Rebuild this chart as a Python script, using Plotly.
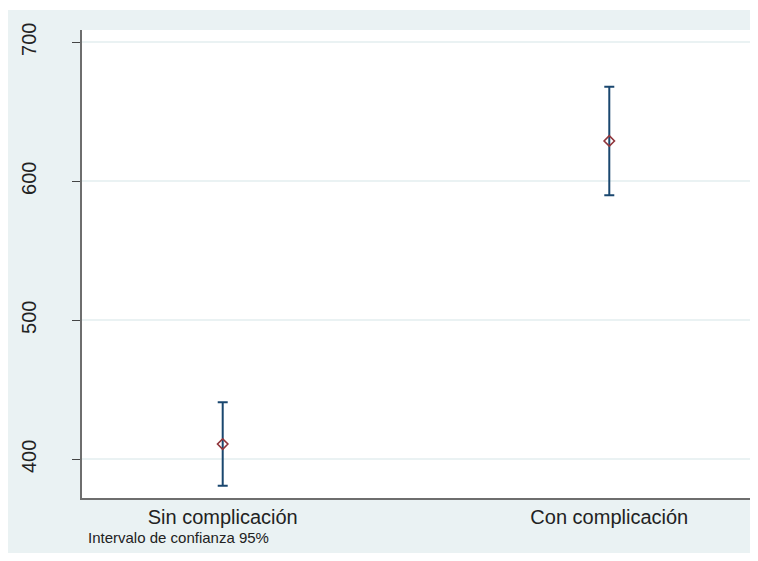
import plotly.graph_objects as go

categories = ["Sin complicación", "Con complicación"]
means = [411.0, 629.0]
ci_lower = [381.0, 590.0]
ci_upper = [441.0, 668.0]
y_ticks = [400, 500, 600, 700]
note = "Intervalo de confianza 95%"

# page body has an 8px margin on every side; keep the page inside 758x561
OFF = 8
W, H = 758 - 2 * OFF, 561 - 2 * OFF
ml, mt = 82 - OFF, 30 - OFF
pw, ph = 668, 468
mr = W - ml - pw
mb = H - mt - ph

navy = "#1a476f"
maroon = "#90353b"
bg = "#eaf2f3"

fig = go.Figure()
fig.add_trace(go.Scatter(
    x=categories, y=means, mode="markers",
    marker=dict(symbol="diamond-open", size=8, color=maroon, line=dict(width=1.6, color=maroon)),
    error_y=dict(type="data", symmetric=False,
                 array=[u - m for u, m in zip(ci_upper, means)],
                 arrayminus=[m - l for l, m in zip(ci_lower, means)],
                 color=navy, thickness=2, width=5),
    showlegend=False,
))

# thin white strip above the Stata outer region
fig.add_shape(type="rect", xref="paper", yref="paper",
              x0=-ml / pw, x1=1 + mr / pw, y0=1 + (mt - 2) / ph, y1=1 + mt / ph,
              fillcolor="white", line=dict(width=0), layer="below")

fig.add_annotation(text=note, xref="paper", yref="paper",
                   x=(86 - OFF - ml) / pw, y=-(537 - OFF - (mt + ph)) / ph,
                   xanchor="left", yanchor="middle", showarrow=False,
                   font=dict(family="Liberation Sans, Arial", size=15, color="#222"))

fig.update_layout(
    width=W, height=H,
    margin=dict(l=ml, r=mr, t=mt, b=mb, pad=0),
    paper_bgcolor=bg, plot_bgcolor="white",
    font=dict(family="Liberation Sans, Arial", color="#222"),
    xaxis=dict(type="category", range=[-0.364, 1.364], showgrid=False,
               showline=True, linecolor="#6e6e6e", linewidth=1.5, ticks="",
               tickfont=dict(size=20), zeroline=False),
    yaxis=dict(range=[372.2, 708.8], tickvals=y_ticks, showgrid=True,
               gridcolor=bg, gridwidth=1.5, showline=True, linecolor="#6e6e6e",
               linewidth=1.5, ticks="outside", ticklen=8, tickcolor="#444",
               tickwidth=1, tickangle=-90, tickfont=dict(size=20),
               ticklabelstandoff=28, zeroline=False),
)

fig.write_html("out.html")
